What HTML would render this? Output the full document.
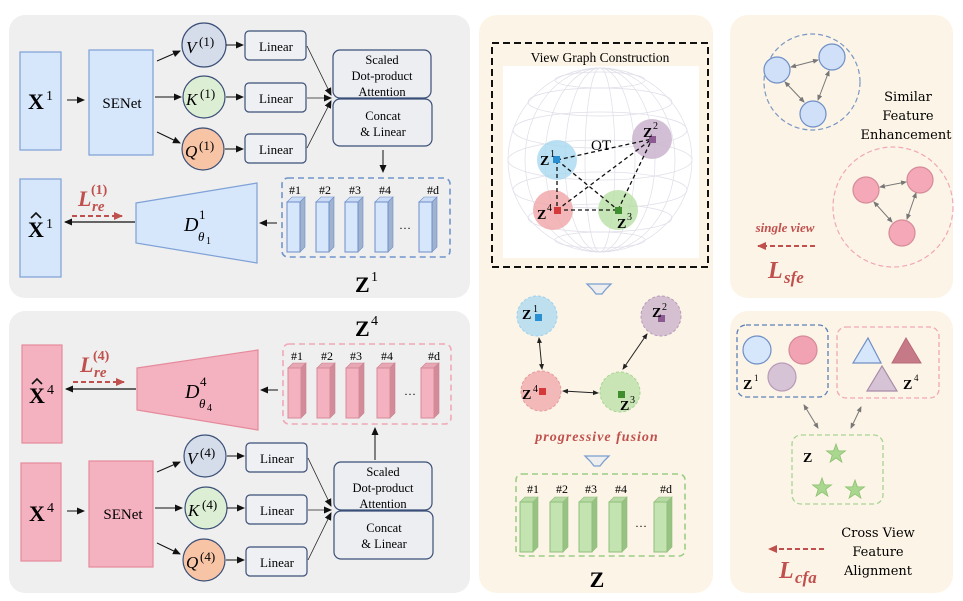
<!DOCTYPE html>
<html><head><meta charset="utf-8"><style>
html,body{margin:0;padding:0;background:#fff}
svg{display:block}
text{font-family:"Liberation Serif",serif}
</style></head><body>
<svg width="963" height="601" viewBox="0 0 963 601" xmlns="http://www.w3.org/2000/svg">
<defs>
<marker id="ah" markerWidth="8" markerHeight="8" refX="7" refY="4" orient="auto" markerUnits="userSpaceOnUse"><path d="M0,0.5 L8,4 L0,7.5 Z" fill="#111"/></marker>
<marker id="ahs" markerWidth="6" markerHeight="6" refX="5" refY="3" orient="auto-start-reverse" markerUnits="userSpaceOnUse"><path d="M0,0.5 L6,3 L0,5.5 Z" fill="#222"/></marker>
<marker id="ahg" markerWidth="6" markerHeight="6" refX="5" refY="3" orient="auto-start-reverse" markerUnits="userSpaceOnUse"><path d="M0,0.5 L6,3 L0,5.5 Z" fill="#777"/></marker>
<marker id="ahr" markerWidth="9" markerHeight="9" refX="8" refY="4.5" orient="auto" markerUnits="userSpaceOnUse"><path d="M0,0.5 L9,4.5 L0,8.5 Z" fill="#c0504d"/></marker>
<g id="cb"><path d="M0,5 L5,0 L18,0 L13,5Z" fill="#c9dbf5" stroke="#6f8fc7" stroke-width="0.6"/><path d="M13,5 L18,0 L18,50 L13,55Z" fill="#9fb2cf" stroke="#6f8fc7" stroke-width="0.6"/><rect x="0" y="5" width="13" height="50" fill="#d6e6fb" stroke="#6f8fc7" stroke-width="1"/></g>
<g id="cp"><path d="M0,5 L5,0 L18,0 L13,5Z" fill="#e7a7b4" stroke="#c9818f" stroke-width="0.6"/><path d="M13,5 L18,0 L18,50 L13,55Z" fill="#d18b99" stroke="#c9818f" stroke-width="0.6"/><rect x="0" y="5" width="13" height="50" fill="#f4b1bf" stroke="#d58b99" stroke-width="1"/></g>
<g id="cg"><path d="M0,5 L5,0 L18,0 L13,5Z" fill="#b7d9a4" stroke="#8fbf7a" stroke-width="0.6"/><path d="M13,5 L18,0 L18,50 L13,55Z" fill="#98c283" stroke="#8fbf7a" stroke-width="0.6"/><rect x="0" y="5" width="13" height="50" fill="#c3e3b0" stroke="#8fbf7a" stroke-width="1"/></g>
</defs>

<rect x="9" y="15" width="461" height="283" rx="16" fill="#efefef"/>
<rect x="9" y="311" width="461" height="282" rx="16" fill="#efefef"/>
<rect x="479" y="15" width="234" height="578" rx="18" fill="#fcf4e6"/>
<rect x="730" y="15" width="223" height="283" rx="18" fill="#fcf4e6"/>
<rect x="730" y="311" width="223" height="282" rx="18" fill="#fcf4e6"/>

<!-- TOP LEFT -->
<rect x="20" y="52" width="41" height="98" fill="#d6e6fb" stroke="#7ea1d6" stroke-width="1.2"/>
<text x="28" y="109" font-size="22" font-weight="bold">X</text><text x="46" y="100" font-size="14">1</text>
<line x1="67" y1="100" x2="84" y2="100" stroke="#111" marker-end="url(#ah)"/>
<rect x="89" y="50" width="64" height="105" fill="#d6e6fb" stroke="#7ea1d6" stroke-width="1.2"/>
<text x="122" y="108" font-size="15" text-anchor="middle">SENet</text>
<line x1="157" y1="61" x2="180" y2="51" stroke="#111" marker-end="url(#ah)"/>
<line x1="155" y1="97" x2="181" y2="97" stroke="#111" marker-end="url(#ah)"/>
<line x1="157" y1="132" x2="180" y2="143" stroke="#111" marker-end="url(#ah)"/>
<circle cx="204" cy="45" r="22" fill="#d5dcea" stroke="#3b4f78" stroke-width="1.2"/>
<circle cx="204" cy="97" r="21" fill="#dcefd4" stroke="#3b4f78" stroke-width="1.2"/>
<circle cx="203" cy="149" r="21" fill="#f7c5a6" stroke="#3b4f78" stroke-width="1.2"/>
<text x="186" y="53" font-size="17" font-style="italic">V</text><text x="199" y="46" font-size="13">(1)</text>
<text x="186" y="105" font-size="17" font-style="italic">K</text><text x="200" y="98" font-size="13">(1)</text>
<text x="185" y="157" font-size="17" font-style="italic">Q</text><text x="199" y="150" font-size="13">(1)</text>
<line x1="226" y1="45" x2="243" y2="45" stroke="#111" marker-end="url(#ah)"/>
<line x1="226" y1="97" x2="243" y2="97" stroke="#111" marker-end="url(#ah)"/>
<line x1="225" y1="149" x2="243" y2="149" stroke="#111" marker-end="url(#ah)"/>
<rect x="245" y="31" width="61" height="29" rx="4" fill="#eef0f4" stroke="#3b4f78" stroke-width="1.2"/>
<rect x="245" y="83" width="61" height="29" rx="4" fill="#eef0f4" stroke="#3b4f78" stroke-width="1.2"/>
<rect x="245" y="134" width="61" height="29" rx="4" fill="#eef0f4" stroke="#3b4f78" stroke-width="1.2"/>
<text x="276" y="51" font-size="13" text-anchor="middle">Linear</text>
<text x="276" y="103" font-size="13" text-anchor="middle">Linear</text>
<text x="276" y="154" font-size="13" text-anchor="middle">Linear</text>
<line x1="307" y1="46" x2="331" y2="95" stroke="#222" stroke-width="0.8" marker-end="url(#ah)"/>
<line x1="307" y1="98" x2="331" y2="98" stroke="#222" stroke-width="0.8" marker-end="url(#ah)"/>
<line x1="307" y1="148" x2="331" y2="101" stroke="#222" stroke-width="0.8" marker-end="url(#ah)"/>
<rect x="333" y="50" width="98" height="48" rx="7" fill="#eceef2" stroke="#3b4f78" stroke-width="1.2"/>
<rect x="333" y="99" width="99" height="47" rx="7" fill="#eceef2" stroke="#3b4f78" stroke-width="1.2"/>
<text x="382" y="64" font-size="12.5" text-anchor="middle">Scaled</text>
<text x="382" y="80" font-size="12.5" text-anchor="middle">Dot-product</text>
<text x="382" y="96" font-size="12.5" text-anchor="middle">Attention</text>
<text x="383" y="120" font-size="12.5" text-anchor="middle">Concat</text>
<text x="383" y="136" font-size="12.5" text-anchor="middle">&amp; Linear</text>
<line x1="383" y1="150" x2="383" y2="172" stroke="#111" marker-end="url(#ah)"/>
<rect x="282" y="178" width="168" height="79" rx="6" fill="none" stroke="#7095cc" stroke-width="1.6" stroke-dasharray="6,4"/>
<text x="295" y="194" font-size="12" text-anchor="middle">#1</text>
<text x="325" y="194" font-size="12" text-anchor="middle">#2</text>
<text x="355" y="194" font-size="12" text-anchor="middle">#3</text>
<text x="385" y="194" font-size="12" text-anchor="middle">#4</text>
<text x="433" y="194" font-size="12" text-anchor="middle">#d</text>
<use href="#cb" x="287" y="197"/><use href="#cb" x="316" y="197"/><use href="#cb" x="345" y="197"/><use href="#cb" x="375" y="197"/><use href="#cb" x="419" y="197"/>
<text x="405" y="229" font-size="12" text-anchor="middle">…</text>
<text x="355" y="292" font-size="22" font-weight="bold">Z</text><text x="371" y="281" font-size="14">1</text>
<line x1="277" y1="223" x2="260" y2="223" stroke="#111" marker-end="url(#ah)"/>
<path d="M136,203 L257,183 L257,263 L136,243 Z" fill="#d6e6fb" stroke="#7ea1d6" stroke-width="1.2"/>
<text x="184" y="231" font-size="20" font-style="italic">D</text><text x="199" y="219" font-size="13">1</text><text x="198" y="241" font-size="13" font-style="italic">θ</text><text x="206" y="244" font-size="10">1</text>
<line x1="135" y1="222" x2="65" y2="222" stroke="#111" stroke-width="1.3" marker-end="url(#ah)"/>
<rect x="20" y="179" width="41" height="98" fill="#d6e6fb" stroke="#7ea1d6" stroke-width="1.2"/>
<text x="28" y="237" font-size="22" font-weight="bold">X</text><path d="M31,218 L36,213 L41,218" fill="none" stroke="#111" stroke-width="1.6"/><text x="46" y="228" font-size="14">1</text>
<text x="78" y="206" font-size="22" font-style="italic" font-weight="bold" fill="#c0504d">L</text>
<text x="92" y="211" font-size="15" font-style="italic" font-weight="bold" fill="#c0504d">re</text>
<text x="91" y="194" font-size="14" font-weight="bold" fill="#c0504d">(1)</text>
<line x1="72" y1="216" x2="122" y2="216" stroke="#c0504d" stroke-width="2" stroke-dasharray="5,3" marker-end="url(#ahr)"/>

<!-- BOTTOM LEFT -->
<text x="355" y="336" font-size="22" font-weight="bold">Z</text><text x="371" y="325" font-size="14">4</text>
<rect x="283" y="344" width="168" height="80" rx="6" fill="none" stroke="#f0a8b7" stroke-width="1.6" stroke-dasharray="6,4"/>
<text x="297" y="360" font-size="12" text-anchor="middle">#1</text>
<text x="327" y="360" font-size="12" text-anchor="middle">#2</text>
<text x="356" y="360" font-size="12" text-anchor="middle">#3</text>
<text x="387" y="360" font-size="12" text-anchor="middle">#4</text>
<text x="434" y="360" font-size="12" text-anchor="middle">#d</text>
<use href="#cp" x="288" y="363"/><use href="#cp" x="317" y="363"/><use href="#cp" x="346" y="363"/><use href="#cp" x="377" y="363"/><use href="#cp" x="421" y="363"/>
<text x="410" y="395" font-size="12" text-anchor="middle">…</text>
<line x1="278" y1="390" x2="261" y2="390" stroke="#111" marker-end="url(#ah)"/>
<path d="M137,368 L258,350 L258,430 L137,410 Z" fill="#f4b1bf" stroke="#e58a9c" stroke-width="1.2"/>
<text x="185" y="398" font-size="20" font-style="italic">D</text><text x="200" y="386" font-size="13">4</text><text x="199" y="408" font-size="13" font-style="italic">θ</text><text x="207" y="411" font-size="10">4</text>
<line x1="136" y1="389" x2="66" y2="389" stroke="#111" stroke-width="1.3" marker-end="url(#ah)"/>
<rect x="22" y="345" width="40" height="98" fill="#f4b1bf" stroke="#e58a9c" stroke-width="1.2"/>
<text x="29" y="403" font-size="22" font-weight="bold">X</text><path d="M32,384 L37,379 L42,384" fill="none" stroke="#111" stroke-width="1.6"/><text x="47" y="394" font-size="14">4</text>
<text x="80" y="372" font-size="22" font-style="italic" font-weight="bold" fill="#c0504d">L</text>
<text x="94" y="377" font-size="15" font-style="italic" font-weight="bold" fill="#c0504d">re</text>
<text x="93" y="360" font-size="14" font-weight="bold" fill="#c0504d">(4)</text>
<line x1="73" y1="382" x2="124" y2="382" stroke="#c0504d" stroke-width="2" stroke-dasharray="5,3" marker-end="url(#ahr)"/>
<line x1="375" y1="460" x2="375" y2="428" stroke="#111" marker-end="url(#ah)"/>

<rect x="21" y="463" width="40" height="98" fill="#f4b1bf" stroke="#e58a9c" stroke-width="1.2"/>
<text x="29" y="521" font-size="22" font-weight="bold">X</text><text x="47" y="512" font-size="14">4</text>
<line x1="67" y1="511" x2="84" y2="511" stroke="#111" marker-end="url(#ah)"/>
<rect x="89" y="461" width="64" height="106" fill="#f4b1bf" stroke="#e58a9c" stroke-width="1.2"/>
<text x="123" y="519" font-size="15" text-anchor="middle">SENet</text>
<line x1="157" y1="472" x2="180" y2="462" stroke="#111" marker-end="url(#ah)"/>
<line x1="155" y1="508" x2="182" y2="508" stroke="#111" marker-end="url(#ah)"/>
<line x1="157" y1="543" x2="180" y2="554" stroke="#111" marker-end="url(#ah)"/>
<circle cx="205" cy="456" r="21" fill="#d5dcea" stroke="#3b4f78" stroke-width="1.2"/>
<circle cx="206" cy="508" r="21" fill="#dcefd4" stroke="#3b4f78" stroke-width="1.2"/>
<circle cx="204" cy="560" r="21" fill="#f7c5a6" stroke="#3b4f78" stroke-width="1.2"/>
<text x="187" y="464" font-size="17" font-style="italic">V</text><text x="200" y="457" font-size="13">(4)</text>
<text x="188" y="516" font-size="17" font-style="italic">K</text><text x="202" y="509" font-size="13">(4)</text>
<text x="186" y="568" font-size="17" font-style="italic">Q</text><text x="200" y="561" font-size="13">(4)</text>
<line x1="227" y1="456" x2="244" y2="456" stroke="#111" marker-end="url(#ah)"/>
<line x1="227" y1="508" x2="244" y2="508" stroke="#111" marker-end="url(#ah)"/>
<line x1="226" y1="560" x2="244" y2="560" stroke="#111" marker-end="url(#ah)"/>
<rect x="246" y="443" width="61" height="29" rx="4" fill="#eef0f4" stroke="#3b4f78" stroke-width="1.2"/>
<rect x="246" y="495" width="61" height="29" rx="4" fill="#eef0f4" stroke="#3b4f78" stroke-width="1.2"/>
<rect x="246" y="547" width="61" height="29" rx="4" fill="#eef0f4" stroke="#3b4f78" stroke-width="1.2"/>
<text x="277" y="463" font-size="13" text-anchor="middle">Linear</text>
<text x="277" y="515" font-size="13" text-anchor="middle">Linear</text>
<text x="277" y="567" font-size="13" text-anchor="middle">Linear</text>
<line x1="308" y1="458" x2="331" y2="506" stroke="#222" stroke-width="0.8" marker-end="url(#ah)"/>
<line x1="308" y1="510" x2="331" y2="510" stroke="#222" stroke-width="0.8" marker-end="url(#ah)"/>
<line x1="308" y1="560" x2="331" y2="513" stroke="#222" stroke-width="0.8" marker-end="url(#ah)"/>
<rect x="334" y="462" width="98" height="48" rx="7" fill="#eceef2" stroke="#3b4f78" stroke-width="1.2"/>
<rect x="334" y="511" width="99" height="48" rx="7" fill="#eceef2" stroke="#3b4f78" stroke-width="1.2"/>
<text x="383" y="476" font-size="12.5" text-anchor="middle">Scaled</text>
<text x="383" y="492" font-size="12.5" text-anchor="middle">Dot-product</text>
<text x="383" y="508" font-size="12.5" text-anchor="middle">Attention</text>
<text x="384" y="532" font-size="12.5" text-anchor="middle">Concat</text>
<text x="384" y="548" font-size="12.5" text-anchor="middle">&amp; Linear</text>

<!-- MIDDLE -->
<rect x="492" y="43" width="216" height="224" fill="none" stroke="#111" stroke-width="2" stroke-dasharray="7,4"/>
<text x="600" y="62" font-size="13.5" text-anchor="middle">View Graph Construction</text>
<rect x="503" y="66" width="196" height="192" fill="#fff"/>
<g fill="none" stroke="#dedee8" stroke-width="0.7">
<circle cx="600" cy="160" r="92"/>
<ellipse cx="600" cy="160" rx="92" ry="20"/><ellipse cx="600" cy="130" rx="87" ry="18"/><ellipse cx="600" cy="190" rx="87" ry="18"/>
<ellipse cx="600" cy="102" rx="72" ry="14"/><ellipse cx="600" cy="218" rx="72" ry="14"/>
<ellipse cx="600" cy="80" rx="45" ry="8"/><ellipse cx="600" cy="240" rx="45" ry="8"/>
<ellipse cx="600" cy="160" rx="15" ry="92"/><ellipse cx="600" cy="160" rx="35" ry="92"/><ellipse cx="600" cy="160" rx="55" ry="92"/><ellipse cx="600" cy="160" rx="75" ry="92"/>
</g>
<circle cx="557" cy="160" r="20" fill="#a9d8f0" fill-opacity="0.8"/>
<circle cx="652" cy="139" r="20" fill="#c8afca" fill-opacity="0.8"/>
<circle cx="553" cy="210" r="20" fill="#f0a5a8" fill-opacity="0.8"/>
<circle cx="618" cy="210" r="20" fill="#b8e0a5" fill-opacity="0.8"/>
<g stroke="#111" stroke-width="1.3" stroke-dasharray="4,3" fill="none">
<line x1="557" y1="160" x2="652" y2="139"/><line x1="557" y1="160" x2="618" y2="210"/><line x1="557" y1="160" x2="557" y2="210"/>
<line x1="557" y1="210" x2="652" y2="139"/><line x1="557" y1="210" x2="618" y2="210"/><line x1="618" y1="210" x2="652" y2="139"/>
</g>
<rect x="553" y="156" width="7" height="7" fill="#2a8fd0"/><rect x="649" y="136" width="7" height="7" fill="#8a5a90"/>
<rect x="554" y="207" width="7" height="7" fill="#d43a3a"/><rect x="615" y="207" width="7" height="7" fill="#3e8e2e"/>
<text x="540" y="165" font-size="14" font-weight="bold">Z</text><text x="550" y="157" font-size="10">1</text>
<text x="643" y="137" font-size="14" font-weight="bold">Z</text><text x="653" y="129" font-size="10">2</text>
<text x="537" y="219" font-size="14" font-weight="bold">Z</text><text x="547" y="211" font-size="10">4</text>
<text x="617" y="228" font-size="14" font-weight="bold">Z</text><text x="627" y="220" font-size="10">3</text>
<text x="591" y="150" font-size="15">OT</text>
<path d="M587,284 L611,284 L606,289 L602,294 L596,294 L592,289 Z" fill="#eeeeee" stroke="#7b9fd0" stroke-width="1.3"/>
<path d="M594,284 L604,284" stroke="#7b9fd0" stroke-width="0"/>
<circle cx="537" cy="316" r="20" fill="#a9d8f0" fill-opacity="0.75" stroke="#9fd0ee" stroke-dasharray="3,2"/>
<circle cx="661" cy="316" r="20" fill="#c8afca" fill-opacity="0.75" stroke="#b79cbb" stroke-dasharray="3,2"/>
<circle cx="541" cy="391" r="20" fill="#f0a5a8" fill-opacity="0.75" stroke="#e69aa0" stroke-dasharray="3,2"/>
<circle cx="620" cy="392" r="20" fill="#b8e0a5" fill-opacity="0.75" stroke="#a7d694" stroke-dasharray="3,2"/>
<rect x="535" y="314" width="7" height="7" fill="#2a8fd0"/><rect x="658" y="315" width="7" height="7" fill="#8a5a90"/>
<rect x="539" y="388" width="7" height="7" fill="#d43a3a"/><rect x="618" y="391" width="7" height="7" fill="#3e8e2e"/>
<text x="522" y="319" font-size="14" font-weight="bold">Z</text><text x="533" y="312" font-size="10">1</text>
<text x="652" y="317" font-size="14" font-weight="bold">Z</text><text x="662" y="310" font-size="10">2</text>
<text x="522" y="399" font-size="14" font-weight="bold">Z</text><text x="533" y="392" font-size="10">4</text>
<text x="620" y="410" font-size="14" font-weight="bold">Z</text><text x="630" y="403" font-size="10">3</text>
<line x1="539" y1="338" x2="542" y2="369" stroke="#222" marker-start="url(#ahs)" marker-end="url(#ahs)"/>
<line x1="563" y1="391" x2="598" y2="393" stroke="#222" marker-start="url(#ahs)" marker-end="url(#ahs)"/>
<line x1="647" y1="334" x2="623" y2="369" stroke="#222" marker-start="url(#ahs)" marker-end="url(#ahs)"/>
<text x="597" y="441" font-size="14" font-style="italic" font-weight="bold" fill="#c0504d" text-anchor="middle" letter-spacing="1">progressive fusion</text>
<path d="M585,456 L609,456 L604,461 L600,466 L594,466 L590,461 Z" fill="#eeeeee" stroke="#7b9fd0" stroke-width="1.3"/>
<rect x="516" y="474" width="169" height="82" rx="6" fill="none" stroke="#9ccd86" stroke-width="1.6" stroke-dasharray="6,4"/>
<text x="533" y="493" font-size="12" text-anchor="middle">#1</text>
<text x="562" y="493" font-size="12" text-anchor="middle">#2</text>
<text x="591" y="493" font-size="12" text-anchor="middle">#3</text>
<text x="621" y="493" font-size="12" text-anchor="middle">#4</text>
<text x="666" y="493" font-size="12" text-anchor="middle">#d</text>
<use href="#cg" x="520" y="497"/><use href="#cg" x="550" y="497"/><use href="#cg" x="579" y="497"/><use href="#cg" x="609" y="497"/><use href="#cg" x="654" y="497"/>
<text x="641" y="527" font-size="12" text-anchor="middle">…</text>
<text x="597" y="587" font-size="22" font-weight="bold" text-anchor="middle">Z</text>

<!-- RIGHT TOP -->
<circle cx="812" cy="82" r="48" fill="none" stroke="#7a97c4" stroke-width="1.2" stroke-dasharray="5,3"/>
<circle cx="777" cy="70" r="13" fill="#cfe0f8" stroke="#6f8fc7" stroke-width="1.2"/>
<circle cx="832" cy="57" r="13" fill="#cfe0f8" stroke="#6f8fc7" stroke-width="1.2"/>
<circle cx="813" cy="114" r="13" fill="#cfe0f8" stroke="#6f8fc7" stroke-width="1.2"/>
<line x1="791" y1="67" x2="818" y2="60" stroke="#777" marker-start="url(#ahg)" marker-end="url(#ahg)"/>
<line x1="785" y1="82" x2="804" y2="102" stroke="#777" marker-start="url(#ahg)" marker-end="url(#ahg)"/>
<line x1="829" y1="71" x2="818" y2="100" stroke="#777" marker-start="url(#ahg)" marker-end="url(#ahg)"/>
<text x="908" y="101" style="font-family:'DejaVu Serif',serif;font-size:13px" text-anchor="middle">Similar</text>
<text x="908" y="120" style="font-family:'DejaVu Serif',serif;font-size:13px" text-anchor="middle">Feature</text>
<text x="906" y="139" style="font-family:'DejaVu Serif',serif;font-size:13px" text-anchor="middle">Enhancement</text>
<circle cx="893" cy="207" r="60" fill="none" stroke="#f0a8b7" stroke-width="1.2" stroke-dasharray="5,3"/>
<circle cx="866" cy="190" r="13" fill="#f4a8b8" stroke="#d58b99" stroke-width="1.2"/>
<circle cx="920" cy="180" r="13" fill="#f4a8b8" stroke="#d58b99" stroke-width="1.2"/>
<circle cx="902" cy="233" r="13" fill="#f4a8b8" stroke="#d58b99" stroke-width="1.2"/>
<line x1="880" y1="187" x2="906" y2="182" stroke="#777" marker-start="url(#ahg)" marker-end="url(#ahg)"/>
<line x1="874" y1="202" x2="892" y2="222" stroke="#777" marker-start="url(#ahg)" marker-end="url(#ahg)"/>
<line x1="916" y1="193" x2="907" y2="219" stroke="#777" marker-start="url(#ahg)" marker-end="url(#ahg)"/>
<text x="785" y="232" font-size="13" font-style="italic" font-weight="bold" fill="#c0504d" text-anchor="middle">single view</text>
<line x1="815" y1="246" x2="758" y2="246" stroke="#c0504d" stroke-width="2" stroke-dasharray="5,3" marker-end="url(#ahr)"/>
<text x="768" y="278" font-size="24" font-style="italic" font-weight="bold" fill="#c0504d">L</text>
<text x="784" y="283" font-size="17" font-style="italic" font-weight="bold" fill="#c0504d">sfe</text>

<!-- RIGHT BOTTOM -->
<rect x="737" y="325" width="91" height="72" rx="9" fill="none" stroke="#5c7fb8" stroke-width="1.3" stroke-dasharray="5,3"/>
<circle cx="757" cy="350" r="14" fill="#d6e6fb" stroke="#6f8fc7" stroke-width="1.2"/>
<circle cx="803" cy="350" r="14" fill="#f2a3b3" stroke="#d58b99" stroke-width="1.2"/>
<circle cx="782" cy="377" r="14" fill="#d6c3d6" stroke="#b89bb8" stroke-width="1.2"/>
<text x="743" y="389" font-size="14" font-weight="bold">Z</text><text x="754" y="381" font-size="9">1</text>
<rect x="837" y="327" width="102" height="71" rx="9" fill="none" stroke="#f0a8b7" stroke-width="1.3" stroke-dasharray="5,3"/>
<path d="M853,363 L868,338 L881,363 Z" fill="#d6e6fb" stroke="#6f8fc7" stroke-width="1.2"/>
<path d="M892,363 L906,338 L921,363 Z" fill="#c67a87" stroke="#b86a78" stroke-width="1"/>
<path d="M867,391 L882,366 L897,391 Z" fill="#d6c3d6" stroke="#a78ca8" stroke-width="1.2"/>
<text x="903" y="389" font-size="14" font-weight="bold">Z</text><text x="914" y="381" font-size="9">4</text>
<line x1="804" y1="405" x2="818" y2="428" stroke="#777" marker-start="url(#ahg)" marker-end="url(#ahg)"/>
<line x1="861" y1="407" x2="851" y2="428" stroke="#777" marker-start="url(#ahg)" marker-end="url(#ahg)"/>
<rect x="792" y="435" width="91" height="69" rx="9" fill="none" stroke="#a8d494" stroke-width="1.3" stroke-dasharray="5,3"/>
<text x="803" y="462" font-size="14" font-weight="bold">Z</text>
<g fill="#a9d78f" stroke="#8cc170" stroke-width="0.8">
<path d="M0,-10 L2.4,-3.2 L9.5,-3.1 L3.8,1.2 L5.9,8.1 L0,4 L-5.9,8.1 L-3.8,1.2 L-9.5,-3.1 L-2.4,-3.2 Z" transform="translate(836,454)"/>
<path d="M0,-10 L2.4,-3.2 L9.5,-3.1 L3.8,1.2 L5.9,8.1 L0,4 L-5.9,8.1 L-3.8,1.2 L-9.5,-3.1 L-2.4,-3.2 Z" transform="translate(822,488)"/>
<path d="M0,-10 L2.4,-3.2 L9.5,-3.1 L3.8,1.2 L5.9,8.1 L0,4 L-5.9,8.1 L-3.8,1.2 L-9.5,-3.1 L-2.4,-3.2 Z" transform="translate(855,490)"/>
</g>
<text x="878" y="537" style="font-family:'DejaVu Serif',serif;font-size:13px" text-anchor="middle">Cross View</text>
<text x="878" y="556" style="font-family:'DejaVu Serif',serif;font-size:13px" text-anchor="middle">Feature</text>
<text x="878" y="575" style="font-family:'DejaVu Serif',serif;font-size:13px" text-anchor="middle">Alignment</text>
<line x1="824" y1="549" x2="769" y2="549" stroke="#c0504d" stroke-width="2" stroke-dasharray="5,3" marker-end="url(#ahr)"/>
<text x="779" y="578" font-size="24" font-style="italic" font-weight="bold" fill="#c0504d">L</text>
<text x="795" y="583" font-size="17" font-style="italic" font-weight="bold" fill="#c0504d">cfa</text>
</svg>
</body></html>
